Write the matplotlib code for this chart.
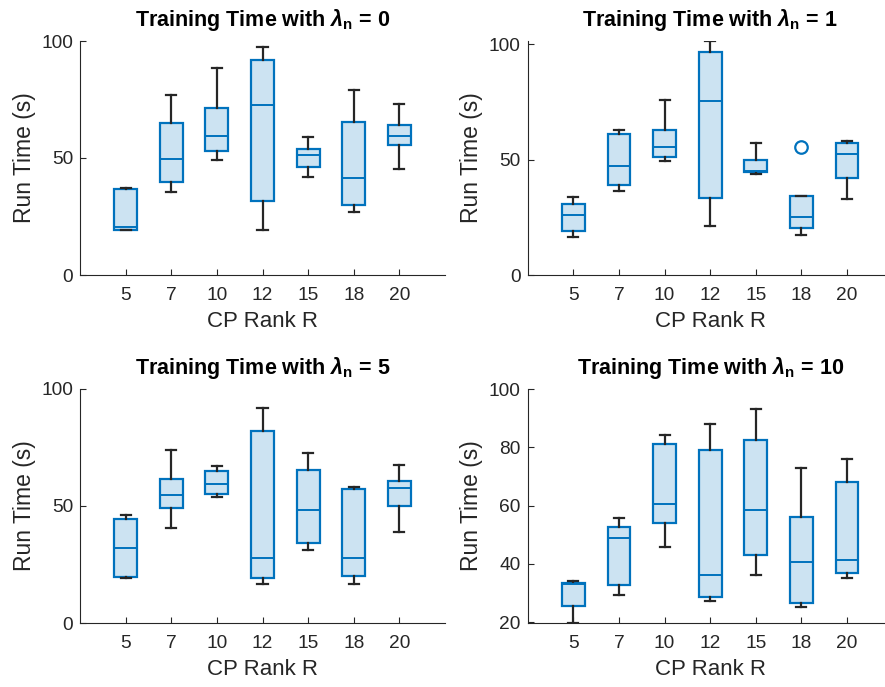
import matplotlib
matplotlib.use("Agg")
import matplotlib.pyplot as plt

plt.rcParams['font.family'] = ['Liberation Sans', 'DejaVu Sans']
plt.rcParams['mathtext.fontset'] = 'custom'
plt.rcParams['mathtext.it'] = 'Liberation Sans:italic:bold'
plt.rcParams['mathtext.rm'] = 'Liberation Sans:bold'
plt.rcParams['mathtext.bf'] = 'Liberation Sans:bold'

ranks = ['5', '7', '10', '12', '15', '18', '20']
lambdas = ['0', '1', '5', '10']

# per panel: lower whisker, q1, median, q3, upper whisker (seconds)
lo_0 = [19.1, 35.6, 49.0, 19.2, 41.9, 26.8, 45.4]
q1_0 = [19.4, 39.6, 52.8, 31.8, 46.0, 29.9, 55.7]
med_0 = [20.7, 49.6, 59.4, 72.5, 51.1, 41.3, 59.4]
q3_0 = [36.6, 65.0, 71.2, 91.9, 54.0, 65.2, 64.1]
hi_0 = [37.3, 76.9, 88.3, 97.3, 58.8, 78.9, 73.1]

lo_1 = [16.5, 36.4, 49.4, 21.2, 43.8, 17.3, 32.9]
q1_1 = [18.9, 39.0, 51.3, 33.2, 44.5, 20.4, 41.9]
med_1 = [26.0, 47.3, 55.6, 75.6, 45.2, 25.0, 52.3]
q3_1 = [30.6, 61.3, 62.9, 96.8, 49.9, 34.2, 57.1]
hi_1 = [33.7, 62.7, 75.9, 101.3, 57.1, 34.2, 57.9]
out_1 = [[], [], [], [], [], [55.5], []]

lo_5 = [19.4, 40.7, 54.0, 16.8, 31.1, 16.7, 38.9]
q1_5 = [19.7, 49.3, 55.0, 19.4, 34.0, 20.1, 49.9]
med_5 = [32.1, 54.7, 59.5, 27.8, 48.1, 27.8, 57.8]
q3_5 = [44.6, 61.7, 65.1, 81.9, 65.4, 57.3, 60.5]
hi_5 = [46.3, 73.9, 67.2, 91.9, 72.5, 58.3, 67.5]

lo_10 = [19.7, 29.2, 45.9, 27.2, 36.1, 25.3, 35.0]
q1_10 = [25.6, 32.6, 53.9, 28.5, 43.0, 26.5, 36.9]
med_10 = [33.0, 49.0, 60.6, 36.3, 58.3, 40.7, 41.2]
q3_10 = [33.5, 52.7, 81.2, 79.2, 82.6, 55.9, 67.9]
hi_10 = [34.2, 55.8, 84.3, 87.9, 93.1, 73.0, 75.9]

panels = [
    (lo_0, q1_0, med_0, q3_0, hi_0, None),
    (lo_1, q1_1, med_1, q3_1, hi_1, out_1),
    (lo_5, q1_5, med_5, q3_5, hi_5, None),
    (lo_10, q1_10, med_10, q3_10, hi_10, None),
]
ylims = [(0, 100), (0, 101.4), (0, 100), (19.66, 100)]
yticks = [[0, 50, 100], [0, 50, 100], [0, 50, 100], [20, 40, 60, 80, 100]]

blue = '#0072BD'
fill = '#cce3f2'
dark = '#262626'

W, H = 885, 687
fig = plt.figure(figsize=(W / 100, H / 100), dpi=100)
rects = [(80, 275), (527.7, 275), (80, 623), (527.7, 623)]

for i, (lo, q1, med, q3, hi, out) in enumerate(panels):
    x0, yb = rects[i]
    ax = fig.add_axes([x0 / W, (H - yb) / H, 365 / W, 234 / H])
    stats = []
    for j in range(len(ranks)):
        stats.append(dict(whislo=lo[j], q1=q1[j], med=med[j], q3=q3[j],
                          whishi=hi[j], fliers=out[j] if out else []))
    ax.bxp(stats, positions=range(1, len(ranks) + 1), widths=0.5,
           capwidths=0.22, patch_artist=True, showfliers=True,
           boxprops=dict(facecolor=fill, edgecolor=blue, linewidth=1.6),
           medianprops=dict(color=blue, linewidth=1.4),
           whiskerprops=dict(color=dark, linewidth=1.6),
           capprops=dict(color=dark, linewidth=1.6),
           flierprops=dict(marker='o', markerfacecolor='none',
                           markeredgecolor=blue, markersize=9,
                           markeredgewidth=1.6))
    ax.set_xlim(0, 8)
    ax.set_ylim(*ylims[i])
    ax.set_yticks(yticks[i])
    ax.set_xticks(range(1, len(ranks) + 1))
    ax.set_xticklabels(ranks)
    for s in ['top', 'right']:
        ax.spines[s].set_visible(False)
    for s in ['left', 'bottom']:
        ax.spines[s].set_color(dark)
        ax.spines[s].set_linewidth(0.8)
    ax.tick_params(axis='both', direction='in', length=4, width=0.8,
                   colors=dark, labelsize=13.8)
    ax.tick_params(axis='x', pad=9)
    ax.tick_params(axis='y', pad=5)
    ax.set_xlabel('CP Rank R', fontsize=16, color=dark, labelpad=5)
    ax.set_ylabel('Run Time (s)', fontsize=16.5, color=dark, labelpad=4)
    ax.set_title(r'Training Time with $\lambda_\mathrm{n}$ = ' + lambdas[i],
                 fontsize=15.5, fontweight='bold', pad=11)

fig.savefig('out.png', dpi=100)
